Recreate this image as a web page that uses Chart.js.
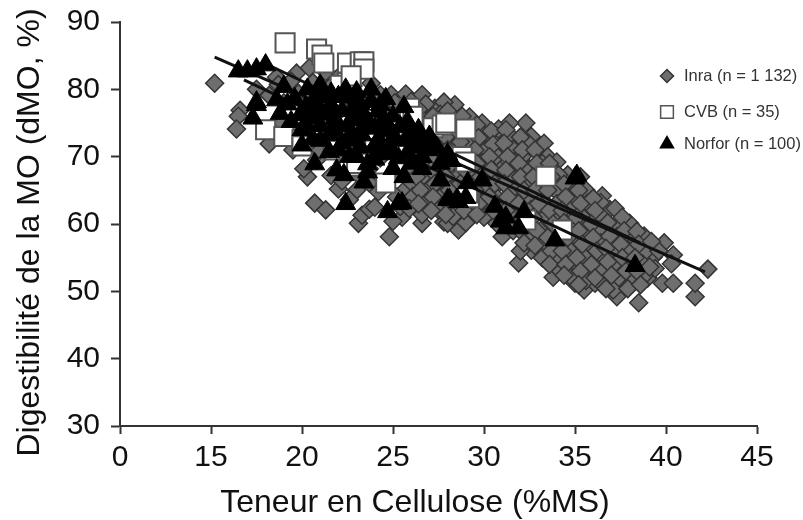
<!DOCTYPE html>
<html>
<head>
<meta charset="utf-8">
<script src="https://cdn.jsdelivr.net/npm/chart.js@4"></script>
<style>
  html, body { margin: 0; padding: 0; background: #fff; }
</style>
</head>
<body>
<canvas id="chart" width="803" height="520"></canvas>
<script>
// values, [cellulose, dMO]
const inraPoints = [
  [15.2,80.9],[16.6,76.9],[16.5,76],[16.4,74.1],[18.2,71.9],[20.3,67],[20.1,68.2],[20.7,63.1],[21.3,62.1],
  [24.8,58.1],[23.1,60.1],[23.3,61.3],[23.7,62.2],[25.5,61],[26.6,60.1],[26.8,63.1],[27.8,60.3],[22,65.2],
  [23.7,66.1],[25.7,65.2],[23.2,67],[28.6,59.1],[28,60.1],[31.9,54.2],[32.6,56.1],[33.5,54.4],[33.8,52.1],
  [31,58.1],[32.9,58.1],[34.7,54.2],[35,51.2],[35.5,50.2],[36.1,51.2],[37.3,49.2],[38.5,48.3],[37.7,51.2],
  [39,52],[39.8,51.2],[40.4,51.2],[41.6,49.2],[41.6,51.2],[42.3,53.3],[39.9,57.2],[40.4,55.4],[40.3,54.1],
  [39.3,55.1],[38.1,59.4],[36.5,64.2],[36.9,62.2],[37.3,60.1],[35.7,62.1],[35.3,67],[34.6,67.3],[32.3,75],
  [31.4,75],[32.6,73],[33.3,72],[33.5,70],[29.9,75],[31.5,73],[31,71],[32.1,70],[30.8,72.2],[29.9,70.3],
  [28.4,77.7],[23.8,80.9],[24.3,79.2],[24.9,79.2],[25.7,79.3],[26.6,79.2],[27.3,77.2],[27.8,78.1],[26.8,76.5],
  [19.7,82.4],[20.4,83.2],[18.6,81.8],[22.1,82.1],[21.3,82.6],
  [17.5,80],[18.2,79.1],[18.7,80.7],[19,78],[19.4,81.2],[19.8,79.4],[20.3,77],[20.6,81],[21,78.6],[21.5,80.2],
  [21.9,76.4],[22.4,78.8],[22.8,80.5],[23.1,76],[23.5,78],[24,75.2],[24.4,77.4],[24.9,74.1],[18.9,75],[19.5,74.2],
  [20.2,73.6],[20.9,75.3],[21.4,72.8],[22,70.6],[22.6,73.4],[23.2,71.1],[23.8,72.6],[24.3,69.8],[24.7,71.4],
  [25,76.5],[20.8,69.5],[21.6,67.2],[22.2,66.4],[23,65],[23.7,68.2],[24.2,64.8],[24.9,67.3],[25.2,64],[25.4,62.6],
  [25.1,78],[25.6,76.8],
  [26,78.2],[25.9,76.1],[26.1,74],[26,72.2],[25.8,70.1],[26.2,68],[26,66.2],[26.1,64.1],[25.9,62.3],
  [26.8,77.8],[26.9,75.1],[26.7,73],[26.8,71.3],[27,69],[26.7,67.2],[26.9,65],[26.6,61.4],
  [27.6,76.3],[27.7,74.2],[27.5,72.1],[27.6,70],[27.8,68.3],[27.4,66],[27.7,64.2],[27.5,62.1],
  [28.4,75],[28.5,73.1],[28.3,71],[28.4,69.2],[28.6,67.1],[28.3,65.3],[28.5,63],[28.3,61.1],
  [29.2,75.9],[29.3,74.1],[29.1,72],[29.2,70.2],[29.4,68.1],[29.1,66.2],[29.3,64],[29.2,62.2],[29,60.2],
  [30,73.2],[30.1,71],[29.9,69.1],[30,67.3],[30.2,65],[29.9,63.2],[30,61],
  [30.8,74.1],[30.7,70.1],[30.9,68],[30.8,66.1],[30.6,64.2],[30.9,62],[30.7,60.1],
  [31.6,71.1],[31.7,69.3],[31.5,67],[31.6,65.2],[31.8,63.1],[31.5,61.2],[31.6,59],
  [32.4,72.1],[32.5,68.2],[32.3,66.1],[32.4,64],[32.6,62.2],[32.3,60],[32.4,58.1],[32,56],
  [33.2,69],[33.1,67.1],[33.3,65],[33.2,63.2],[33.4,61.1],[33.1,59],[33.3,57.2],[33.2,55],
  [34,69.2],[34.1,67.3],[33.9,65.1],[34,63],[34.2,61.2],[33.9,59.1],[34,57],[34.1,55.1],[34.2,53],
  [34.8,66.1],[34.9,64.1],[34.7,62.2],[34.8,60],[35,58.2],[34.7,56.1],[34.9,54],[34.8,52.1],
  [35.6,65],[35.7,63.1],[35.5,60.8],[35.6,59.2],[35.8,57],[35.5,55.1],[35.7,53],[35.6,51.6],
  [36.4,63.2],[36.5,61],[36.3,59.1],[36.4,57.2],[36.6,55],[36.3,53.1],[36.5,51],
  [37.2,62.3],[37.3,58.1],[37.1,56],[37.2,54.2],[37.4,52],[37.1,50.2],
  [38,60.1],[38.1,58],[37.9,56.2],[38,54],[38.2,52.1],[37.9,50.4],
  [38.8,58.2],[38.9,56],[38.7,54.1],[38.8,52.3],[39.4,53.4],[39.6,56],
  [26.4,77],[26.5,75],[26.3,73],[26.4,71],[26.6,69],[26.3,67],[26.5,65],[26.4,63],
  [27.2,76],[27.1,74],[27.3,72],[27.2,70],[27.1,68],[27.3,66],[27.2,64],[27.1,62],
  [28,76.8],[28.1,74.9],[27.9,72.9],[28,71],[28.2,69],[27.9,67],[28.1,65],[28,63.2],[27.9,61.4],
  [28.8,76],[28.9,74.2],[28.7,72.2],[28.8,70.1],[28.9,68.1],[28.7,66],[28.8,64],[28.9,62],
  [29.6,74.7],[29.7,72.8],[29.5,71],[29.6,69],[29.8,67],[29.5,65],[29.7,63],[29.6,61.4],
  [30.4,73.8],[30.5,71.8],[30.3,70],[30.4,68.1],[30.6,66],[30.3,64],[30.5,62],
  [31.2,74],[31.1,72],[31.3,70],[31.2,68],[31.1,66],[31.3,64],[31.2,62],[31.3,60],
  [32,72.9],[32.1,71],[31.9,69],[32,67],[32.2,65],[31.9,63],[32.1,61],[32,59],[32.2,57.2],
  [32.8,71],[32.9,69],[32.7,67],[32.8,65],[33,63],[32.7,61],[32.9,59],[32.8,56.8],
  [33.6,69],[33.7,67],[33.5,65],[33.6,62],[33.8,60],[33.5,58],[33.7,56],[33.6,54],
  [34.4,65.9],[34.5,64],[34.3,62],[34.4,60.2],[34.6,58],[34.3,56],[34.5,54],[34.4,52.4],
  [35.2,65],[35.3,63],[35.1,61],[35.2,59],[35.4,57],[35.1,55],[35.3,53],[35.2,51],
  [36,63.8],[36.1,62],[35.9,60],[36,58],[36.2,56],[35.9,54],[36.1,52],
  [36.8,60.2],[36.9,58.2],[36.7,56.4],[36.8,54.4],[37,52.4],[36.7,50.4],
  [37.6,61],[37.7,59],[37.5,57],[37.6,55],[37.8,53],
  [38.4,58.9],[38.5,57],[38.3,55],[38.4,53],[38.6,51],
  [39.2,57.4],[39.1,53.6],
  [19.5,71],[20.5,71.5],[21,71],[22.8,69],[23.4,69.5],[24.6,66],[24,62.5],[22.6,63.6],[25,60.4]
];

const cvbPoints = [
  [19.07,86.9],[20.8,86],[21.1,85.1],[21.2,83.9],[22.5,83.9],[23.2,84.1],[23.4,84.1],[23.4,83],[22.5,81],[22.1,80.6],
  [22.7,82],[18,74],[19,73],[20,72.5],[20,71.6],[21.7,71.4],[21.8,71],[22.6,68.6],[24.6,66.1],[25.5,75.9],[25.9,77.2],
  [26.1,76],[27.2,74.3],[27.7,74.7],[27.9,75],[29,74.1],[28.8,70],[29,69.2],[29.2,63.9],[29.1,64.6],[32.3,60.6],
  [33.4,67.1],[34.3,59.1],[23,69],[24,73]
];

const norforPoints = [
  [16.5,82.7],[17,82.7],[17.5,83],[18,83.6],[17.5,77.7],[17.3,75.7],[17.5,78.1],[18.6,78.4],[21,80.6],[22,78.9],
  [22.6,78.9],[24.3,77.7],[20,71.7],[21.5,73.2],[21.5,70.7],[20.7,68.9],[21.9,68],[22.3,67.3],[22.6,70],[23.6,68.9],
  [23.6,67.7],[25,68.2],[22.4,63],[24.7,61.8],[25.3,63],[28,63.6],[28.5,63.6],[29,63.9],[30.9,60.4],[31.2,59.4],
  [31.9,59.4],[32.2,61.8],[33.9,57.6],[38.3,53.8],[35,66.8],[35.1,67.2],[31.2,61],[27.6,66.5],[29.1,66.1],[29.9,66.5],
  [28.1,63.6],[28.6,63.3],[25.5,63.1],[27.6,69],[26.9,71],
  [18.8,76.4],[19.2,77.8],[19.6,78.6],[19.9,76.2],[20.2,77.4],[20.5,75.8],[20.7,78.2],[20.9,76.8],[21.2,78.9],[21.4,76.3],
  [21.6,77.6],[21.9,75.2],[22.2,76.8],[22.5,74.6],[22.8,77.2],[23,75.4],[23.3,73.2],[23.5,75.8],[23.8,78.2],[24,74.2],
  [24.2,72.6],[24.5,75.6],[24.7,73.8],[25,76],[25.2,72.4],[25.4,74.4],[25.7,72.6],[26,73.2],[26.2,71.4],[26.5,72.2],
  [24.4,70.4],[24.8,71.2],[23.2,71.4],[22.9,72.4],[22.2,72],[20.6,72.6],[25.3,69.8],[26,69],[27.4,71.4],[28.2,69.4],
  [23.8,80],[23,79.6],[21.8,75.6],[20.3,80],[19,80.4],[26.6,68.2],[24,69.6],[23.4,66.2],[25.6,67],[30.6,62.6],
  [27,73],[25.8,75.2],[24.2,76.8],[22.4,80],[20.8,79.2],
  [19.4,75.2],[20.2,74.8],[21,74.6],[21.8,73.8],[22.6,73],[23.4,74.6],[24.2,71],[25,70.6],[25.8,70.6],[26.6,70],
  [21,72.4],[22,71],[23,70],[24,71.6],[25,72.8],[26.4,74],[27.2,72],[28,70.4],[20,74],[24.6,78.6],
  [25.6,77.4],[23.2,77.8],[21.6,79.4],[22.8,75.8],[24.6,74.8]
];

const fitA = [[15.2,84.8],[42.14,52.9]];
const fitB = [[16.81,81.4],[38.18,54.2]];
const fitC = [[18.24,83.5],[38.57,57.2]];

const xTicks = [10,15,20,25,30,35,40,45];
const yTicks = [30,40,50,60,70,80,90];
const xTitle = 'Teneur en Cellulose (%MS)';
const yTitle = 'Digestibilité de la MO (dMO, %)';

const toXY = list => list.map(p => ({x: p[0], y: p[1]}));

function fitLine(list) {
  return {
    type: 'line',
    data: toXY(list),
    borderColor: '#111',
    borderWidth: 3,
    pointRadius: 0,
    order: 2
  };
}

const INK = '#111';
const AXIS = '#333';
const FONT = '"Liberation Sans"';

// legend and axis titles sit off the layout grid, so they are drawn here
const overlayPlugin = {
  id: 'overlay',
  afterDraw(chart) {
    const ctx = chart.ctx;
    const rows = [76, 112, 144];
    chart.data.datasets.filter(d => d.legendName).sort((a, b) => a.legendRow - b.legendRow).forEach((d, i) => {
      ctx.save();
      ctx.fillStyle = d.backgroundColor;
      ctx.strokeStyle = d.borderColor;
      ctx.lineWidth = 1.5;
      Chart.helpers.drawPoint(ctx, {pointStyle: d.pointStyle, radius: d.legendRadius, borderWidth: 1.5}, 667, rows[i]);
      ctx.font = '16.5px ' + FONT;
      ctx.fillStyle = '#333';
      ctx.textBaseline = 'middle';
      ctx.fillText(d.legendName, 684, rows[i]);
      ctx.restore();
    });

    ctx.save();
    ctx.font = '32px ' + FONT;
    ctx.fillStyle = INK;
    ctx.textAlign = 'center';
    ctx.textBaseline = 'middle';
    ctx.fillText(xTitle, 415, 503);
    ctx.translate(30, 232.5);
    ctx.rotate(-Math.PI / 2);
    ctx.fillText(yTitle, 0, 0);
    ctx.restore();
  }
};

new Chart(document.getElementById('chart'), {
  type: 'scatter',
  data: {
    datasets: [
      {
        label: 'Norfor', legendName: 'Norfor (n = 100)', legendRow: 3, legendRadius: 7.5,
        data: toXY(norforPoints), pointStyle: 'triangle', pointRadius: 11.5, pointHoverRadius: 11.5,
        backgroundColor: '#000', borderColor: '#000', borderWidth: 1, order: 1
      },
      fitLine(fitA),
      fitLine(fitB),
      fitLine(fitC),
      {
        label: 'CVB', legendName: 'CVB (n = 35)', legendRow: 2, legendRadius: 9,
        data: toXY(cvbPoints), pointStyle: 'rect', pointRadius: 13.5, pointHoverRadius: 13.5,
        backgroundColor: '#fff', borderColor: '#555', borderWidth: 2, order: 3
      },
      {
        label: 'Inra', legendName: 'Inra (n = 1 132)', legendRow: 1, legendRadius: 6.5,
        data: toXY(inraPoints), pointStyle: 'rectRot', pointRadius: 9, pointHoverRadius: 9,
        backgroundColor: '#6e6e6e', borderColor: '#333', borderWidth: 1.5, order: 4
      }
    ]
  },
  options: {
    responsive: false,
    animation: false,
    layout: { padding: { top: 22, right: 46, left: 0, bottom: 0 } },
    plugins: { legend: { display: false }, tooltip: { enabled: false } },
    scales: {
      x: {
        type: 'linear',
        min: 10,
        max: 45,
        afterFit(scale) { scale.height = 94; },
        afterBuildTicks(scale) { scale.ticks = xTicks.map(v => ({value: v})); },
        border: { color: AXIS, width: 2 },
        grid: { drawOnChartArea: false, drawTicks: true, tickLength: 8, tickColor: AXIS, tickWidth: 2 },
        ticks: {
          color: INK,
          font: { family: FONT, size: 30 },
          padding: 6,
          maxRotation: 0,
          // axis is broken, the first tick stands for 0
          callback: v => v === 10 ? '0' : String(v)
        }
      },
      y: {
        min: 30,
        max: 90,
        afterFit(scale) {
          scale.width = 120;
          // label height would otherwise push the plot top down
          scale.paddingTop = 0;
          scale.paddingBottom = 0;
        },
        afterBuildTicks(scale) { scale.ticks = yTicks.map(v => ({value: v})); },
        border: { color: AXIS, width: 2 },
        grid: { drawOnChartArea: false, drawTicks: true, tickLength: 9, tickColor: AXIS, tickWidth: 2 },
        ticks: {
          color: INK,
          font: { family: FONT, size: 30 },
          padding: 11
        }
      }
    }
  },
  plugins: [overlayPlugin]
});
</script>
</body>
</html>
